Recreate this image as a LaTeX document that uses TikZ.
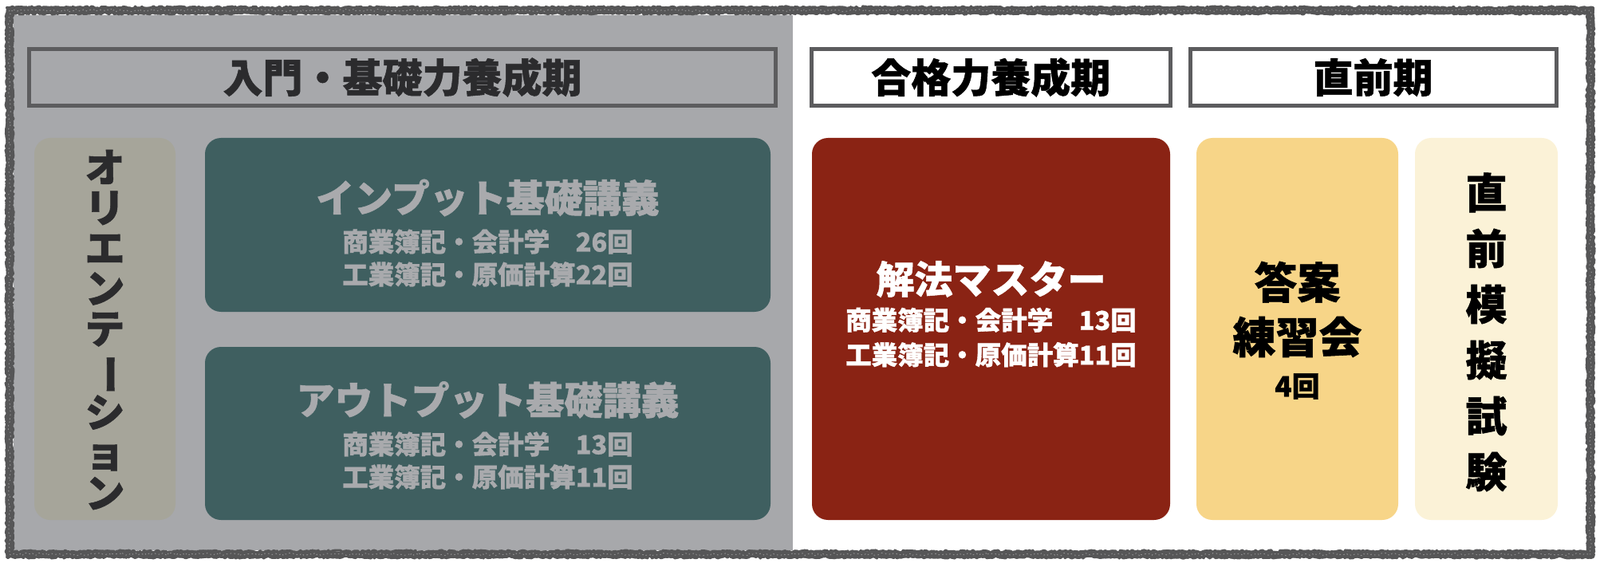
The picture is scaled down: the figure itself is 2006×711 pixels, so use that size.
\documentclass[tikz,border=0pt]{standalone}
\usepackage{fontspec}
\setmainfont{Noto Sans CJK JP}[BoldFeatures={FakeBold=1}]
\usepackage{xcolor}
\usepackage{tikz}
\usetikzlibrary{positioning,decorations.pathmorphing}

\definecolor{bggray}{HTML}{A7A8AB}
\definecolor{framegray}{HTML}{565657}
\definecolor{hdrline}{HTML}{5C5C5E}
\definecolor{hdrtext}{HTML}{2B2B2D}
\definecolor{orifill}{HTML}{A6A59A}
\definecolor{tealfill}{HTML}{3F5F60}
\definecolor{tealtext}{HTML}{A9AAAD}
\definecolor{redfill}{HTML}{8A2314}
\definecolor{yelfill}{HTML}{F7D588}
\definecolor{creamfill}{HTML}{FBF2D7}

\newcommand{\vbar}{\rotatebox[origin=c]{-90}{ー}}

\begin{document}
\begin{tikzpicture}[x=1pt,y=-1pt,inner sep=0pt,outer sep=0pt,
    rough/.style={framegray,line join=round,line cap=round,decorate,decoration={random steps,segment length=2.5pt,amplitude=1.6pt}},
    hdr/.style={draw=hdrline,line width=5pt,minimum width=#1,minimum height=71pt,font=\fontsize{50}{50}\selectfont\bfseries},
    box/.style={rounded corners=20pt,minimum width=#1,minimum height=479pt},
    ttl/.style={font=\fontsize{48}{48}\selectfont\bfseries},
    subl/.style={align=center,font=\fontsize{32.5}{41}\selectfont\bfseries}]
                \useasboundingbox (0,0) rectangle (2006,711);
                \fill[bggray] (17,19) rectangle (994,690);
                % sketchy frame
                \draw[rough,line width=9pt] (12,13) rectangle (1994,695);
                \draw[rough,line width=3pt] (8.5,9.5) rectangle (1997.5,698.5);
                \draw[rough,line width=3pt] (15.5,16.5) rectangle (1990.5,691.5);
                \draw[rough,white,opacity=.35,line width=1pt,dash pattern=on 1pt off 4pt] (12,13) rectangle (1994,695);

                \node[hdr=936pt,text=hdrtext] (h1) at (504.5,97) {入門・基礎力養成期};
                \node[hdr=449.5pt,fill=white] (h2) [right=45pt of h1] {合格力養成期};
                \node[hdr=459pt,fill=white] (h3) [right=25pt of h2] {直前期};

                \node[box=177pt,fill=orifill] (ori) at (131.5,412.5) {};
                \node[box=709pt,minimum height=218pt,fill=tealfill] (inp) [right=37pt of ori.north east,anchor=north west] {};
                \node[box=709pt,minimum height=217pt,fill=tealfill] (outp) [below=44pt of inp] {};
                \node[box=449pt,fill=redfill] (kai) at (1242.5,412.5) {};
                \node[box=253pt,fill=yelfill] (toan) [right=33pt of kai] {};
                \node[box=179pt,fill=creamfill] (moshi) [right=21pt of toan] {};

                \node[align=center,text=hdrtext,font=\fontsize{50}{50.6}\selectfont\bfseries] (oriT) at ([yshift=-1pt]ori.center)
                    {オ\\リ\\エ\\ン\\テ\\\vbar\\シ\\ョ\\ン};
                \node[ttl,text=tealtext] (inpT) at ([yshift=34pt]inp.center) {インプット基礎講義};
                \node[subl,text=tealtext] (inpS) at ([yshift=-41.5pt]inp.center) {商業簿記・会計学　26回\\工業簿記・原価計算22回};
                \node[ttl,text=tealtext] (outT) at ([yshift=42pt]outp.center) {アウトプット基礎講義};
                \node[subl,text=tealtext] (outS) at ([yshift=-34pt]outp.center) {商業簿記・会計学　13回\\工業簿記・原価計算11回};
                \node[ttl,text=white] (kaiT) at ([yshift=62.5pt]kai.center) {解法マスター};
                \node[subl,text=white,font=\fontsize{32.5}{43.5}\selectfont\bfseries] (kaiS) at ([yshift=-10.5pt]kai.center) {商業簿記・会計学　13回\\工業簿記・原価計算11回};
                \node[align=center,font=\fontsize{54}{68.5}\selectfont\bfseries] (toanT) at ([yshift=24.5pt]toan.center) {答案\\練習会};
                \node[font=\fontsize{35}{35}\selectfont\bfseries] (toanS) at ([yshift=-72pt]toan.center) {4回};
                \node[align=center,font=\fontsize{52}{70}\selectfont\bfseries] (moshiT) at ([yshift=-4pt]moshi.center) {直\\前\\模\\擬\\試\\験};
            \end{tikzpicture}
\end{document}
